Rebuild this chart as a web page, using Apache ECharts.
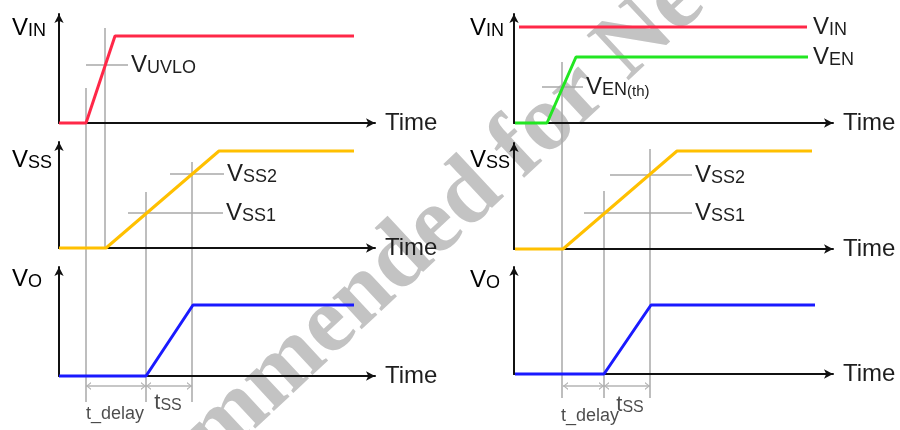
<!DOCTYPE html>
<html>
<head>
<meta charset="utf-8">
<script src="https://cdn.jsdelivr.net/npm/echarts@6/dist/echarts.min.js"></script>
<style>html,body{margin:0;padding:0;background:#fff}#c{width:900px;height:430px}</style>
</head>
<body>
<div id="c"></div>
<script>
// ===================== DATA (time units, level units; level 0 = time axis) =====================
// Left diagram (UVLO start-up)
const vinLeft      = [[0,0],[27,0],[56,87],[295,87]];
const vssLeft      = [[0,0],[47,0],[160,97],[295,97]];
const voLeft       = [[0,0],[87,0],[134,71],[295,71]];
const uvloCross    = [[27,58],[69,58]];
const vss2CrossL   = [[111,74],[165,74]];
const vss1CrossL   = [[69,35],[164,35]];
const delayDimL    = [[27,-10],[87,-10]];
const tssDimL      = [[87,-10],[133,-10]];
// guides: [time, fromPanel, fromLevel, toPanel, toLevel]
const guidesLeft   = [[27,0,35,2,-26],[46,0,95,1,0],[87,1,56,2,-26],[133,1,86,2,-26]];
const dimTextLeft  = [[56,-38,'t_delay'],[109,-27,'tss']];

// Right diagram (EN start-up)
const vinRight     = [[5,96],[293,96]];
const venRight     = [[1,0],[33,0],[62,66],[294,66]];
const venthCross   = [[28,36],[69,36]];
const vssRight     = [[1,0],[49,0],[163,98],[298,98]];
const vss2CrossR   = [[96,74],[178,74]];
const vss1CrossR   = [[70,36],[178,36]];
const voRight      = [[1,0],[90,0],[137,69],[301,69]];
const delayDimR    = [[49,-12],[90,-12]];
const tssDimR      = [[90,-12],[136,-12]];
const guidesRight  = [[48,3,61,5,-24],[90,4,58,5,-24],[136,4,100,5,-24]];
const dimTextRight = [[76,-42,'t_delay'],[116,-31,'tss']];

// axis ranges
const timeMax  = [316,316,316,319,319,319];
const levelMax = [109,106,109,109,106,107];
const panelNames = ['{v|V}{s|IN}','{v|V}{s|SS}','{v|V}{s|O}','{v|V}{s|IN}','{v|V}{s|SS}','{v|V}{s|O}'];

// ===================== LAYOUT / STYLE =====================
const FONT = 'Liberation Sans';
const TXT = '#1e1e1e';
const boxes = [
  {left:59,  top:14,  width:316, height:109},
  {left:59,  top:142, width:316, height:106},
  {left:59,  top:267, width:316, height:109},
  {left:514, top:14,  width:319, height:109},
  {left:514, top:143, width:319, height:106},
  {left:514, top:267, width:319, height:107}
];
const nameLabelPos = [[12,40],[12,172],[12,291],[470,40],[470,172],[470,292]];
const rich = {
  v:  {fontSize:24, fontFamily:FONT, color:TXT, verticalAlign:'bottom'},
  s:  {fontSize:18, fontFamily:FONT, color:TXT, verticalAlign:'bottom'},
  th: {fontSize:15, fontFamily:FONT, color:TXT, verticalAlign:'bottom'},
  t:  {fontSize:22, fontFamily:FONT, color:TXT, verticalAlign:'bottom'},
  ss: {fontSize:16, fontFamily:FONT, color:TXT, verticalAlign:'bottom'},
  d:  {fontSize:18, fontFamily:FONT, color:TXT, verticalAlign:'bottom'}
};
const RED='#ff2848', GREEN='#22e622', YEL='#ffc000', BLUE='#1a1aff', GRAY='#a9a9a9', AXIS='#111';

const grids = boxes.map(b => Object.assign({containLabel:false, outerBoundsMode:'none'}, b));
const xAxes = boxes.map((b,i) => ({
  type:'value', gridIndex:i, min:0, max:timeMax[i], z:3,
  axisLine:{show:true, onZero:true, symbol:['none','arrow'], symbolSize:[7,9], lineStyle:{color:AXIS, width:2}},
  axisTick:{show:false}, axisLabel:{show:false}, splitLine:{show:false},
  name:'Time', nameLocation:'end', nameGap:10,
  nameTextStyle:{fontSize:24, fontFamily:FONT, color:TXT, align:'left', verticalAlign:'middle'}
}));
const yAxes = boxes.map((b,i) => ({
  type:'value', gridIndex:i, min:0, max:levelMax[i], z:3,
  axisLine:{show:true, onZero:false, symbol:['none','arrow'], symbolSize:[7,9], lineStyle:{color:AXIS, width:2}},
  axisTick:{show:false}, axisLabel:{show:false}, splitLine:{show:false}
}));

function curve(grid, data, color, label, labelDist) {
  const s = {type:'line', xAxisIndex:grid, yAxisIndex:grid, data:data, clip:false, z:5,
    symbol:'none', lineStyle:{color:color, width:3}, silent:true};
  if (label) s.endLabel = {show:true, formatter:label, rich:rich, distance:labelDist || 5, color:TXT};
  return s;
}
function cross(grid, data, label) {
  return {type:'line', xAxisIndex:grid, yAxisIndex:grid, data:data, clip:false, z:2,
    symbol:'none', lineStyle:{color:GRAY, width:1.5}, silent:true,
    endLabel:{show:true, formatter:label, rich:rich, distance:3, color:TXT}};
}
const CHEV_L = 'path://M10,0 L0,5 L10,10 L10,8.2 L3.2,5 L10,1.8 Z';
const CHEV_R = 'path://M0,0 L10,5 L0,10 L0,8.2 L6.8,5 L0,1.8 Z';
function dim(grid, data) {
  return {type:'line', xAxisIndex:grid, yAxisIndex:grid, clip:false, z:2, silent:true,
    showSymbol:true, showAllSymbol:true, lineStyle:{color:'#b4b4b4', width:1.5},
    itemStyle:{color:'#b4b4b4'},
    data:[
      {value:data[0], symbol:CHEV_L, symbolSize:[5,8], symbolOffset:[2.5,0]},
      {value:data[1], symbol:CHEV_R, symbolSize:[5,8], symbolOffset:[-2.5,0]}
    ]};
}
function dimText(grid, items) {
  return {type:'scatter', xAxisIndex:grid, yAxisIndex:grid, clip:false, z:5, silent:true,
    symbolSize:1, itemStyle:{color:'rgba(0,0,0,0)'},
    data: items.map(it => ({value:[it[0],it[1]],
      label:{show:true, position:'inside', color:TXT, rich:rich,
        formatter: it[2] === 'tss' ? '{t|t}{ss|SS}' : '{d|t_delay}'}}))};
}

const baseSeries = [
  curve(0, vinLeft, RED), curve(1, vssLeft, YEL), curve(2, voLeft, BLUE),
  cross(0, uvloCross, '{v|V}{s|UVLO}'), cross(1, vss2CrossL, '{v|V}{s|SS2}'), cross(1, vss1CrossL, '{v|V}{s|SS1}'),
  dim(2, delayDimL), dim(2, tssDimL), dimText(2, dimTextLeft),
  curve(3, vinRight, RED, '{v|V}{s|IN}', 6), curve(3, venRight, GREEN, '{v|V}{s|EN}', 5),
  curve(4, vssRight, YEL), curve(5, voRight, BLUE),
  cross(3, venthCross, '{v|V}{s|EN}{th|(th)}'), cross(4, vss2CrossR, '{v|V}{s|SS2}'), cross(4, vss1CrossR, '{v|V}{s|SS1}'),
  dim(5, delayDimR), dim(5, tssDimR), dimText(5, dimTextRight)
];

const graphics = [{
  type:'text', x:456, y:208, rotation:43*Math.PI/180, z:-10, silent:true,
  style:{text:'Not Recommended for New Designs', font:'bold 94px "Liberation Serif"',
    fill:'#c3c3c3', align:'center', verticalAlign:'middle'}
}].concat(nameLabelPos.map((p,i) => ({
  type:'text', x:p[0], y:p[1], z:10, silent:true,
  style:{text:panelNames[i], rich:rich, align:'left', verticalAlign:'bottom'}
})));

const chart = echarts.init(document.getElementById('c'), null, {renderer:'canvas'});
chart.setOption({
  animation:false, backgroundColor:'#fff',
  grid:grids, xAxis:xAxes, yAxis:yAxes, graphic:graphics, series:baseSeries
});

// vertical guides spanning several panels: convert end level through the library's scales
const guideSeries = guidesLeft.concat(guidesRight).map(g => {
  const px = chart.convertToPixel({gridIndex:g[3]}, [g[0], g[4]]);
  const endInFrom = chart.convertFromPixel({gridIndex:g[1]}, px);
  return {type:'line', xAxisIndex:g[1], yAxisIndex:g[1], clip:false, z:2, silent:true,
    symbol:'none', lineStyle:{color:GRAY, width:1.5},
    data:[[g[0], g[2]], [g[0], endInFrom[1]]]};
});
chart.setOption({series: baseSeries.concat(guideSeries)});
</script>
</body>
</html>
